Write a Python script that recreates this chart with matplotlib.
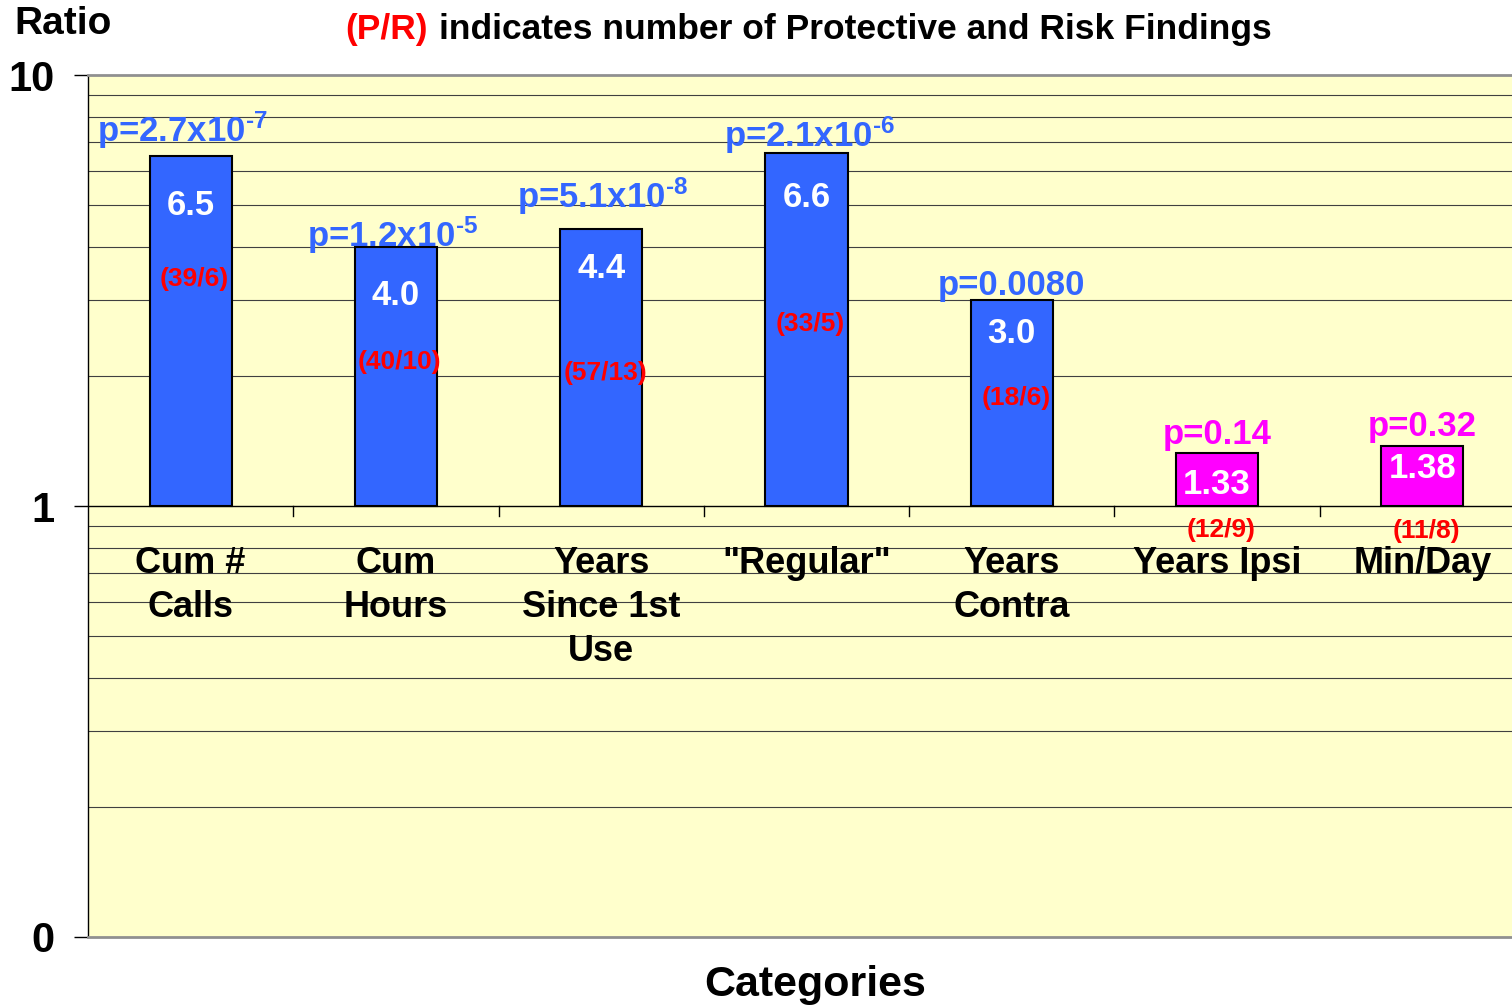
import numpy as np
import matplotlib.pyplot as plt

plt.rcParams['font.family'] = ['Liberation Sans', 'DejaVu Sans']
plt.rcParams['font.weight'] = 'bold'
plt.rcParams['mathtext.fontset'] = 'custom'
plt.rcParams['mathtext.rm'] = 'Liberation Sans:bold'
plt.rcParams['mathtext.it'] = 'Liberation Sans:bold'
plt.rcParams['mathtext.bf'] = 'Liberation Sans:bold'

# data
categories = ['Cum #\nCalls', 'Cum\nHours', 'Years\nSince 1st\nUse', '"Regular"',
              'Years\nContra', 'Years Ipsi', 'Min/Day']
ratios = [6.5, 4.0, 4.4, 6.6, 3.0, 1.33, 1.38]
value_text = ['6.5', '4.0', '4.4', '6.6', '3.0', '1.33', '1.38']
p_text = ['p=2.7x10$^{\u20107}$', 'p=1.2x10$^{\u20105}$', 'p=5.1x10$^{\u20108}$',
          'p=2.1x10$^{\u20106}$', 'p=0.0080', 'p=0.14', 'p=0.32']
pr_text = ['(39/6)', '(40/10)', '(57/13)', '(33/5)', '(18/6)', '(12/9)', '(11/8)']
significant = [True, True, True, True, True, False, False]

# label placement (pixels relative to bar top) and P/R label heights
val_off = [-50, -49, -40, -45, -33, -32, -23]
p_off = [25, 11, 32, 18, 15, 18, 19]
p_xoff = [-8, -3, 1, 3, 0, 0, 0]
pr_y = [3.36, 2.16, 2.03, 2.64, 1.78, 0.88, 0.875]

blue = '#3366FF'
magenta = '#FF00FF'
red = '#FF0000'

fig = plt.figure(figsize=(15.12, 10.08), dpi=100)
ax = fig.add_axes([88/1512, 1-937/1008, (1525-88)/1512, (937-75)/1008])
ax.set_facecolor('#FFFFCC')
ax.set_yscale('log')
ax.set_ylim(0.1, 10)
ax.set_xlim(-0.5, 6.5)

x = np.arange(len(categories))
cols = [blue if s else magenta for s in significant]
ax.bar(x, np.array(ratios) - 1, bottom=1, width=0.4, color=cols,
       edgecolor='black', linewidth=1.5, zorder=3)

# gridlines at minor log positions
ax.yaxis.grid(True, which='minor', color='#404040', linewidth=0.8, zorder=1)
ax.set_yticks([0.1, 1, 10])
ax.set_yticklabels(['0', '1', '10'], fontsize=30)
ax.tick_params(axis='y', which='major', length=10, width=1, pad=14)
ax.tick_params(axis='y', which='minor', length=0)
ax.set_xticks([])

for s in ['top', 'bottom']:
    ax.spines[s].set_color('#909090')
    ax.spines[s].set_linewidth(2)
ax.spines['right'].set_visible(False)
ax.spines['left'].set_color('black')
ax.spines['left'].set_linewidth(1)

# category axis crossing at 1
ax.axhline(1, color='black', linewidth=1, zorder=4)
for b in np.arange(0.5, len(categories) - 0.5):
    ax.plot([b, b], [1, 0.95], color='black', linewidth=1, zorder=4)

for i in range(len(categories)):
    ax.annotate(categories[i], (i, 1), xytext=(0, -40), textcoords='offset pixels',
                ha='center', va='top', fontsize=26, linespacing=1.33, zorder=5)
    ax.annotate(value_text[i], (i, ratios[i]), xytext=(0, val_off[i]),
                textcoords='offset pixels', ha='center', va='center',
                fontsize=25, color='white', zorder=5)
    ax.annotate(p_text[i], (i, ratios[i]), xytext=(p_xoff[i], p_off[i]),
                textcoords='offset pixels', ha='center', va='center',
                fontsize=25, color=cols[i], zorder=5)
    ax.annotate(pr_text[i], (i, pr_y[i]), xytext=(4, 0),
                textcoords='offset pixels', ha='center', va='center',
                fontsize=19, color=red, zorder=5)

fig.text(14/1512, 1-24/1008, 'Ratio', fontsize=28, ha='left', va='center')
fig.text(345/1512, 1-29/1008, '(P/R)', fontsize=25.5, color=red, ha='left', va='center')
fig.text(439/1512, 1-29/1008, 'indicates number of Protective and Risk Findings',
         fontsize=25.5, color='black', ha='left', va='center')
fig.text(815/1512, 1-985/1008, 'Categories', fontsize=31, ha='center', va='center')

fig.savefig('out.png', dpi=100)
